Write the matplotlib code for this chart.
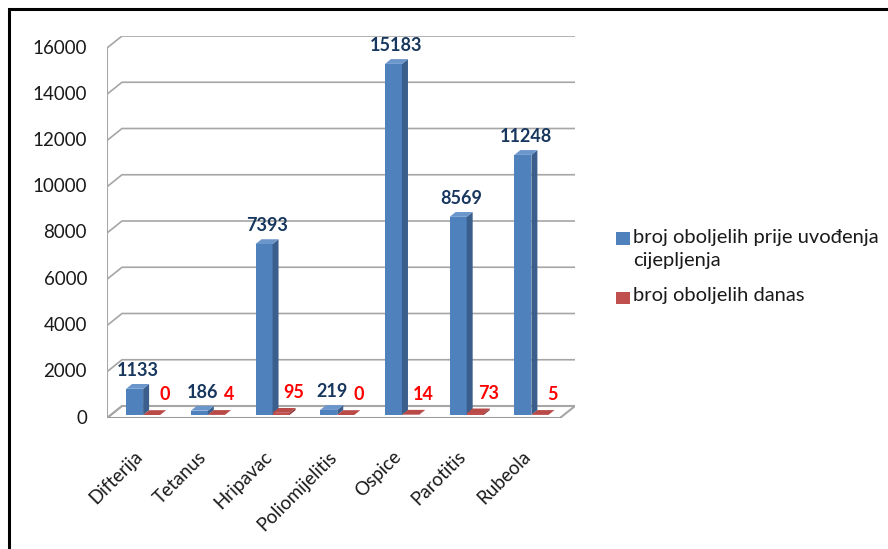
import matplotlib
matplotlib.use("Agg")
import matplotlib.pyplot as plt
from matplotlib.patches import Polygon, Rectangle

plt.rcParams['font.family'] = ['Lato', 'DejaVu Sans']

# data
categories = ['Difterija', 'Tetanus', 'Hripavac', 'Poliomijelitis', 'Ospice', 'Parotitis', 'Rubeola']
prije = [1133, 186, 7393, 219, 15183, 8569, 11248]
danas = [0, 4, 95, 0, 14, 73, 5]
series_names = ['broj oboljelih prije uvođenja\ncijepljenja', 'broj oboljelih danas']
yticks = list(range(0, 16001, 2000))

W, H = 888, 549
fig = plt.figure(figsize=(W / 100, H / 100), dpi=100)

# frame (left and top edges visible)
fig.patches.append(Rectangle((9 / W, -0.1), 2, 1 - 9 / H + 0.1, transform=fig.transFigure,
                             fill=False, edgecolor='black', linewidth=2.2))

# axes laid over the plot area, back wall included
ax = fig.add_axes([107 / W, (H - 418) / H, 468 / W, 382 / H])
ax.axis('off')

n = len(categories)
DX = 15 / 64.7          # wall depth in x units
DY = 12 / 23.125 * 1000  # wall depth in value units
ax.set_xlim(0, n + DX)
ax.set_ylim(0, 16000 + DY)

grid_c = '#a6a6a6'
# floor
ax.add_patch(Polygon([(0, 0), (n, 0), (n + DX, DY), (DX, DY)], closed=True,
                     facecolor='white', edgecolor=grid_c, linewidth=1.5, zorder=1))
# back wall gridlines + left wall diagonals
for v in yticks:
    ax.plot([0, DX, n + DX], [v, v + DY, v + DY], color=grid_c, lw=1.2, zorder=1)
ax.plot([0, 0], [0, 16000], color=grid_c, lw=1.5, zorder=1)
ax.plot([0, n], [0, 0], color='#999999', lw=2, zorder=6)

for v in yticks:
    ax.annotate(str(v), (0, v), xytext=(-20, 0), textcoords='offset pixels',
                ha='right', va='center', fontsize=13.5, color='#1a1a1a', annotation_clip=False)

gap, w = 0.237, 0.263
sx, sy = 0.25 * DX, 0.25 * DY
ddx, ddy = 0.4 * DX, 0.4 * DY


def bar3d(x0, v, front, side, top):
    b = sy
    ax.add_patch(Rectangle((x0, b), w, v, facecolor=front, edgecolor='none', zorder=3))
    ax.add_patch(Polygon([(x0 + w, b), (x0 + w + ddx, b + ddy), (x0 + w + ddx, b + v + ddy),
                          (x0 + w, b + v)], closed=True, facecolor=side, edgecolor='none', zorder=3))
    ax.add_patch(Polygon([(x0, b + v), (x0 + ddx, b + v + ddy), (x0 + w + ddx, b + v + ddy),
                          (x0 + w, b + v)], closed=True, facecolor=top, edgecolor='none', zorder=3))


for i in range(n):
    xb = i + gap + sx
    xr = xb + w
    bar3d(xb, prije[i], '#4f81bd', '#3a5f8c', '#6b96cc')
    bar3d(xr, danas[i], '#c0504d', '#8c3836', '#b84a47')
    ax.annotate(str(prije[i]), (xb + w / 2 + ddx / 2, sy + prije[i] + ddy / 2),
                xytext=(0, 16), textcoords='offset pixels', ha='center', va='center',
                fontsize=13, fontweight='bold', color='#17375e', zorder=7, annotation_clip=False)
    ax.annotate(str(danas[i]), (xr + w / 2, sy + danas[i]),
                xytext=(13, 20), textcoords='offset pixels', ha='center', va='center',
                fontsize=13, fontweight='bold', color='#ff0000', zorder=7, annotation_clip=False)
    ax.annotate(categories[i], (i + 0.5, 0), xytext=(0, -36), textcoords='offset pixels',
                ha='right', va='center', rotation=45, rotation_mode='anchor',
                fontsize=13.5, color='#1a1a1a', annotation_clip=False)

# legend
leg = [((232, 245), '#4f81bd', series_names[0], 238), ((292, 304), '#c0504d', series_names[1], 297)]
for (y0, y1), col, name, ty in leg:
    fig.patches.append(Rectangle((616 / W, 1 - y1 / H), 14 / W, (y1 - y0) / H,
                                 transform=fig.transFigure, facecolor=col, edgecolor='none'))
    fig.text(633 / W, 1 - (ty - 9.5) / H, name, ha='left', va='top', fontsize=14.5,
             color='#1a1a1a', linespacing=1.45)

fig.savefig('out.png', dpi=100)
